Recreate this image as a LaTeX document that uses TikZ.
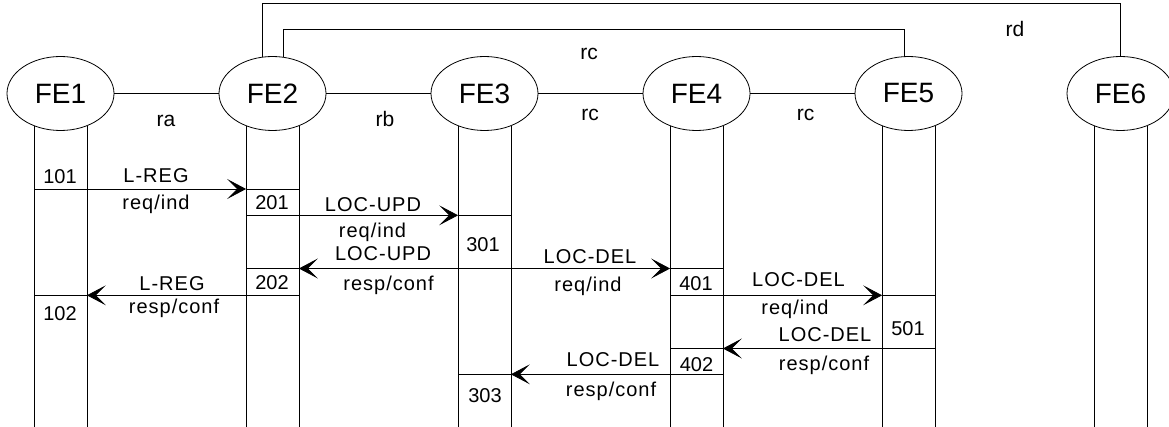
\documentclass[tikz,border=0pt]{standalone}
\usepackage{fontspec}
\setmainfont{Liberation Sans}
\newfontfamily\spaced[LetterSpace=5]{Liberation Sans}
\usetikzlibrary{shapes.geometric, arrows.meta}

\begin{document}
\begin{tikzpicture}[x=1pt, y=-1pt, line width=0.8pt,
  fe/.style={ellipse, draw, minimum width=107pt, minimum height=74pt, inner sep=0pt, font=\fontsize{28}{32}\selectfont},
  msg/.style={-{Stealth[length=19pt, width=20pt, inset=10pt]}},
  txt/.style={anchor=base, inner sep=0pt, font=\spaced\fontsize{20}{24}\selectfont},
  num/.style={anchor=base, inner sep=0pt, font=\fontsize{20}{24}\selectfont},
  lnk/.style={anchor=base, inner sep=0pt, font=\fontsize{21}{24}\selectfont}]
  \useasboundingbox (0,0) rectangle (1169,427);
  % entities
  \foreach \i in {1,...,6}
    \node[fe] (fe\i) at ({60.5+212*(\i-1)},93.5) {FE\i};
  % lifelines
  \coordinate (bot) at (0,427);
  \foreach \i in {1,...,6} {
    \coordinate (L\i) at (fe\i.-129);
    \coordinate (R\i) at (fe\i.-51);
    \draw (L\i) -- (L\i |- bot);
    \draw (R\i) -- (R\i |- bot);
  }
  % relationships
  \draw (fe1) -- (fe2) (fe2) -- (fe3) (fe3) -- (fe4) (fe4) -- (fe5);
  \coordinate (rdtop) at (0,3.5);
  \coordinate (rctop) at (0,29.5);
  \draw (fe2.106) -- (fe2.106 |- rdtop) -- (fe6.north |- rdtop) -- (fe6.north);
  \draw (fe2.74) -- (fe2.74 |- rctop) -- (fe5.97 |- rctop) -- (fe5.97);
  \foreach \n/\x/\y/\lab in {ra/166/126.5/ra, rb/385/126.5/rb, rcup/589/59.5/rc,
      rcmid/590/120.5/rc, rcright/805.5/120.5/rc, rd/1015/36.5/rd}
    \node[lnk] (\n) at (\x,\y) {\lab};
  % message rows
  \foreach \r/\y in {1/189, 2/215.3, 3/268.5, 4/295.3, 5/348.5, 6/374.3}
    \coordinate (m\r) at (0,\y);
  % actions on lifelines
  \foreach \i/\r in {1/m1, 1/m4, 2/m1, 2/m2, 2/m3, 2/m4, 3/m2, 3/m3, 3/m6,
      4/m3, 4/m4, 4/m5, 4/m6, 5/m4, 5/m5}
    \draw (L\i |- \r) -- (R\i |- \r);
  \foreach \a/\b/\r in {R1/L2/m1, R2/L3/m2, L3/R2/m3, R3/L4/m3, L2/R1/m4,
      R4/L5/m4, L5/R4/m5, L4/R3/m6}
    \draw[msg] (\a |- \r) -- (\b |- \r);
  \foreach \x/\y/\lab in {60/183.3/101, 272/210/201, 483/252/301, 272/290/202,
      60/320.7/102, 696/290.7/401, 908/335/501, 696.5/371.7/402, 485/402/303}
    \node[num] (s\lab) at (\x,\y) {\lab};
  % message labels
  \foreach \x/\y/\lab [count=\k] in {156/183/L-REG, 156/209.6/{req/ind},
      373/212/LOC-UPD, 372.5/237.6/{req/ind},
      383/261/LOC-UPD, 388.5/290.6/{resp/conf},
      590/264/LOC-DEL, 588/291.6/{req/ind},
      172/290.7/L-REG, 174/313.9/{resp/conf},
      798.5/287/LOC-DEL, 795/314.6/{req/ind},
      825/341.7/LOC-DEL, 824/370.6/{resp/conf},
      613/366.7/LOC-DEL, 611/396.3/{resp/conf}}
    \node[txt] (lab\k) at (\x,\y) {\lab};
\end{tikzpicture}
\end{document}
